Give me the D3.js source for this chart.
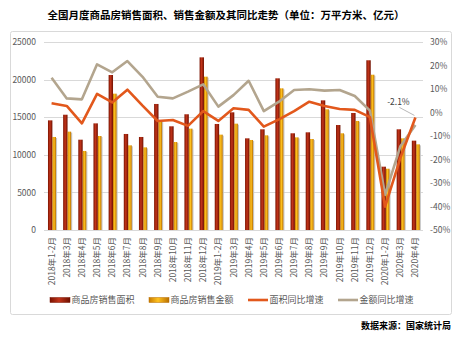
<!DOCTYPE html>
<html><head><meta charset="utf-8">
<script src="https://cdn.jsdelivr.net/npm/d3@7"></script>
<style>body{margin:0;background:#fff;}svg{display:block;}</style>
</head><body>
<script>
const categories = ["2018年1-2月","2018年3月","2018年4月","2018年5月","2018年6月","2018年7月","2018年8月","2018年9月","2018年10月","2018年11月","2018年12月",
"2019年1-2月","2019年3月","2019年4月","2019年5月","2019年6月","2019年7月","2019年8月","2019年9月","2019年10月","2019年11月","2019年12月",
"2020年1-2月","2020年3月","2020年4月"];
const areaValues = [14580,15330,12010,14180,20610,12770,12370,16760,13790,15390,22960,14100,15650,12190,13390,20170,12860,12990,17240,13960,15560,22570,8420,13390,11880];
const amountValues = [12370,13080,10510,12500,18130,11260,10990,14500,11700,13480,20390,12680,14140,11970,12590,18840,12320,12100,16050,12860,14500,20650,8150,12190,11390];
const areaGrowth = [3.9,2.8,-4.6,7.9,4.3,9.7,2.9,-3.6,-3.2,-5.7,0.6,-3.6,1.8,1.1,-6.0,-2.9,0.6,4.6,2.8,1.5,1.1,-2.0,-40.1,-19.5,-2.1];
const amountGrowth = [14.8,6.0,5.6,20.5,17.1,21.9,15.2,6.7,6.0,8.9,12.0,2.5,7.4,13.5,0.6,4.6,9.6,9.9,9.3,9.6,7.0,0.8,-35.1,-14.5,-5.3];
const leftTicks = [0,5000,10000,15000,20000,25000];
const rightTicks = [-50,-40,-30,-20,-10,0,10,20,30];
const seriesNames = ["商品房销售面积","商品房销售金额","面积同比增速","金额同比增速"];
const title = "全国月度商品房销售面积、销售金额及其同比走势（单位：万平方米、亿元）";
const source = "数据来源：国家统计局";

const W = 463, H = 337;
const svg = d3.select("body").append("svg").attr("width", W).attr("height", H);
const font = "'Noto Sans CJK SC','Noto Sans',sans-serif";
const defs = svg.append("defs");
function grad(id, stops){
  const g = defs.append("linearGradient").attr("id", id).attr("x1","0%").attr("x2","100%").attr("y1","0%").attr("y2","0%");
  stops.forEach(s => g.append("stop").attr("offset", s[0]).attr("stop-color", s[1]));
}
grad("gRed", [["0%","#7a1200"],["45%","#c2341a"],["100%","#6e1000"]]);
grad("gYel", [["0%","#c77a00"],["45%","#ffc21f"],["100%","#b86e00"]]);

// outer box
svg.append("rect").attr("x",10.5).attr("y",31.5).attr("width",441).attr("height",283)
  .attr("fill","#fff").attr("stroke","#d9d9d9").attr("rx",2);

svg.append("text").attr("x",226).attr("y",19).attr("text-anchor","middle")
  .attr("font-family",font).attr("font-size",10.5).attr("font-weight","bold").attr("fill","#000").text(title);

const x = d3.scaleBand().domain(categories).range([44, 423]).paddingInner(0).paddingOuter(0);
const y = d3.scaleLinear().domain([0,25000]).range([230, 42]);
const y2 = d3.scaleLinear().domain([-50,30]).range([230, 42]);
const cx = c => x(c) + x.bandwidth()/2;

// gridlines
svg.append("g").selectAll("line").data(leftTicks).join("line")
  .attr("x1",44).attr("x2",423).attr("y1",d=>Math.round(y(d))+0.5).attr("y2",d=>Math.round(y(d))+0.5)
  .attr("stroke","#d9d9d9").attr("stroke-width",1);

// left axis
const ax = d3.axisLeft(y).tickValues(leftTicks).tickSize(0).tickPadding(0).tickFormat(d=>String(d));
const gl = svg.append("g").attr("transform","translate(36,0)").call(ax);
gl.select(".domain").remove();
gl.selectAll("text").attr("font-family",font).attr("font-size",8.5).attr("fill","#595959");

// right axis
const ar = d3.axisRight(y2).tickValues(rightTicks).tickSize(0).tickPadding(0).tickFormat(d=>d+"%");
const gr = svg.append("g").attr("transform","translate(430,0)").call(ar);
gr.select(".domain").remove();
gr.selectAll("text").attr("font-family",font).attr("font-size",8.5).attr("fill","#595959");

// bars
const bars = svg.append("g");
bars.selectAll("rect.s").data(categories).join("rect").attr("class","s")
  .attr("x",c=>cx(c)+4.3).attr("width",1.2)
  .attr("y",(c,i)=>y(amountValues[i])+1).attr("height",(c,i)=>y(0)-y(amountValues[i])-1)
  .attr("fill","#c8c8c8");
bars.selectAll("rect.a").data(categories).join("rect").attr("class","a")
  .attr("x",c=>cx(c)-3.6).attr("width",4.4)
  .attr("y",(c,i)=>y(areaValues[i])).attr("height",(c,i)=>y(0)-y(areaValues[i]))
  .attr("fill","url(#gRed)");
bars.selectAll("rect.m").data(categories).join("rect").attr("class","m")
  .attr("x",c=>cx(c)+0.8).attr("width",3.6)
  .attr("y",(c,i)=>y(amountValues[i])).attr("height",(c,i)=>y(0)-y(amountValues[i]))
  .attr("fill","url(#gYel)");

// lines
const line = (arr) => d3.line().x((d,i)=>cx(categories[i])).y(d=>y2(d))(arr);
svg.append("path").attr("d", line(amountGrowth)).attr("fill","none").attr("stroke","#b3a58e")
  .attr("stroke-width",2.6).attr("stroke-linejoin","round");
svg.append("path").attr("d", line(areaGrowth)).attr("fill","none").attr("stroke","#e2581c")
  .attr("stroke-width",2.6).attr("stroke-linejoin","round");

// data label
const lastC = categories[categories.length-1];
const lastV = areaGrowth[areaGrowth.length-1];
svg.append("line").attr("x1",cx(lastC)-16).attr("y1",y2(lastV)-10).attr("x2",cx(lastC)-1).attr("y2",y2(lastV)-2)
  .attr("stroke","#a6a6a6").attr("stroke-width",0.8);
svg.append("text").attr("x",cx(lastC)-17).attr("y",y2(lastV)-12).attr("text-anchor","middle")
  .attr("font-family",font).attr("font-size",8.5).attr("fill","#404040").text(lastV.toFixed(1)+"%");

// x labels
svg.append("g").selectAll("text").data(categories).join("text")
  .attr("transform",c=>`translate(${cx(c)+3},237) rotate(-90)`)
  .attr("text-anchor","end").attr("font-family",font).attr("font-size",8.5).attr("fill","#595959")
  .text(c=>c);

// legend
const lg = svg.append("g");
const legendX = [50, 149, 248, 338];
const legendY = 300;
lg.append("rect").attr("x",legendX[0]).attr("y",legendY-2.5).attr("width",20).attr("height",5).attr("fill","url(#gRed)").attr("stroke","#7a1200").attr("stroke-width",0.5);
lg.append("rect").attr("x",legendX[1]).attr("y",legendY-2.5).attr("width",20).attr("height",5).attr("fill","url(#gYel)").attr("stroke","#b86e00").attr("stroke-width",0.5);
lg.append("line").attr("x1",legendX[2]).attr("x2",legendX[2]+20).attr("y1",legendY).attr("y2",legendY).attr("stroke","#e2581c").attr("stroke-width",2.6);
lg.append("line").attr("x1",legendX[3]).attr("x2",legendX[3]+20).attr("y1",legendY).attr("y2",legendY).attr("stroke","#b3a58e").attr("stroke-width",2.6);
seriesNames.forEach((n,i)=>{
  lg.append("text").attr("x",legendX[i]+21.5).attr("y",legendY+3.3).attr("font-family",font).attr("font-size",9)
    .attr("fill","#595959").text(n);
});

svg.append("text").attr("x",451).attr("y",329).attr("text-anchor","end").attr("font-family",font)
  .attr("font-size",9).attr("font-weight","bold").attr("fill","#000").text(source);
</script>
</body></html>
